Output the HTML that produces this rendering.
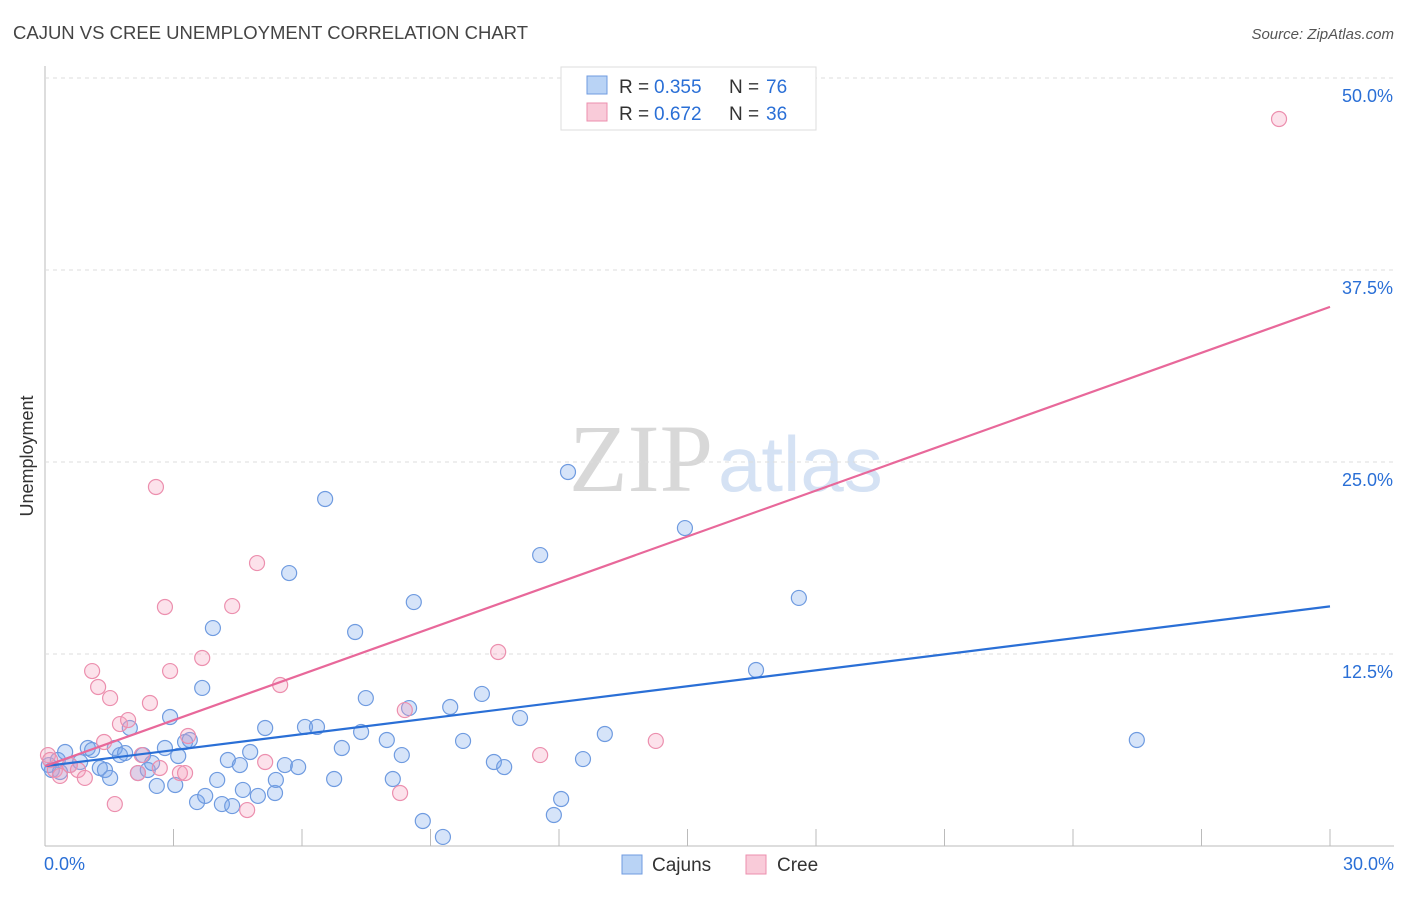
<!DOCTYPE html>
<html><head><meta charset="utf-8"><style>
body{margin:0;background:#fff;font-family:"Liberation Sans",sans-serif;}
svg text{font-family:"Liberation Sans",sans-serif;}
</style></head><body>
<svg width="1406" height="892" id="c">
<text x="13" y="39" font-size="18.5" fill="#444">CAJUN VS CREE UNEMPLOYMENT CORRELATION CHART</text>
<text x="1394" y="39" font-size="15" fill="#555" font-style="italic" text-anchor="end">Source: ZipAtlas.com</text>
<text x="0" y="0" font-size="18" fill="#333" text-anchor="middle" transform="translate(33,456) rotate(-90)">Unemployment</text>
<text x="713" y="491" font-size="96" fill="#d8d8d8" text-anchor="end" style="font-family:'Liberation Serif',serif">ZIP</text>
<text x="718" y="491" font-size="78" fill="#d5e2f4">atlas</text>
<g id="grid"></g><g id="pts"></g><g id="lines"></g>
<g>
<rect x="561" y="67" width="255" height="63" fill="#fff" stroke="#ddd"/>
<rect x="587" y="76" width="20" height="18" fill="#b9d3f5" stroke="#6f9be0"/>
<text x="619" y="93" font-size="19" fill="#333">R =</text>
<text x="654" y="93" font-size="19" fill="#2a6fd6">0.355</text>
<text x="729" y="93" font-size="19" fill="#333">N =</text>
<text x="766" y="93" font-size="19" fill="#2a6fd6">76</text>
<rect x="587" y="103" width="20" height="18" fill="#f9cbd9" stroke="#ec8fae"/>
<text x="619" y="120" font-size="19" fill="#333">R =</text>
<text x="654" y="120" font-size="19" fill="#2a6fd6">0.672</text>
<text x="729" y="120" font-size="19" fill="#333">N =</text>
<text x="766" y="120" font-size="19" fill="#2a6fd6">36</text>
</g>
<g>
<rect x="622" y="855" width="20" height="19" fill="#b9d3f5" stroke="#6f9be0"/>
<text x="652" y="871" font-size="19" fill="#333">Cajuns</text>
<rect x="746" y="855" width="20" height="19" fill="#f9cbd9" stroke="#ec8fae"/>
<text x="777" y="871" font-size="19" fill="#333">Cree</text>
</g>
</svg>
<script>
const yTicks=[12.5,25,37.5,50];
const yTickLabels=["12.5%","25.0%","37.5%","50.0%"];
const xTickCount=10;
const cajunX=[0.16,0.30,0.47,0.58,0.82,1.00,1.10,1.28,1.40,1.52,1.63,1.75,1.87,1.98,2.17,2.29,2.40,2.50,2.61,2.80,2.92,3.04,3.11,3.27,3.38,3.55,3.67,3.74,3.92,4.02,4.13,4.27,4.37,4.55,4.62,4.79,4.97,5.14,5.37,5.39,5.60,5.70,5.91,6.07,6.35,6.54,6.75,6.93,7.24,7.38,7.49,7.98,8.12,8.33,8.50,8.61,8.82,9.29,9.46,9.76,10.20,10.48,10.72,11.09,11.56,11.88,12.05,12.21,12.56,13.07,14.94,16.60,17.60,25.49,0.09,0.35];
const cajunY=[4.95,5.60,6.12,5.27,5.47,6.38,6.25,5.08,4.95,4.43,6.38,5.92,6.05,7.68,4.75,5.92,4.95,5.40,3.91,6.38,8.40,3.97,5.86,6.77,6.90,2.86,10.29,3.26,14.19,4.30,2.73,5.60,2.60,5.27,3.65,6.12,3.26,7.68,3.45,4.30,5.27,17.77,5.14,7.75,7.75,22.59,4.36,6.38,13.93,7.42,9.63,6.90,4.36,5.92,8.98,15.88,1.63,0.59,9.05,6.84,9.90,5.47,5.14,8.33,18.94,2.02,3.06,24.35,5.66,7.29,20.70,11.46,16.15,6.90,5.27,4.82];
const creeX=[0.07,0.23,0.35,0.58,0.77,0.93,1.10,1.24,1.38,1.52,1.63,1.75,1.94,2.17,2.26,2.45,2.59,2.68,2.80,2.92,3.15,3.27,3.34,3.67,4.37,4.72,4.95,5.14,5.49,8.29,8.40,10.58,11.56,14.26,28.81,0.12];
const creeY=[5.92,4.95,4.56,5.27,4.95,4.43,11.39,10.35,6.77,9.63,2.73,7.94,8.20,4.75,5.92,9.31,23.37,5.08,15.56,11.39,4.75,4.75,7.16,12.24,15.62,2.34,18.42,5.47,10.48,3.45,8.85,12.63,5.92,6.84,47.33,5.60];
const cajunTrend=[5.2,15.6];
const creeTrend=[5.2,35.1];
const X0=45,X1=1330,Y0=846,Y1=78,XMAX=30,YMAX=50;
const sx=v=>X0+(v/XMAX)*(X1-X0);
const sy=v=>Y0-(v/YMAX)*(Y0-Y1);
const NS="http://www.w3.org/2000/svg";
function mk(t,a,p){const e=document.createElementNS(NS,t);for(const k in a)e.setAttribute(k,a[k]);p.appendChild(e);return e;}
const g=document.getElementById('grid');
mk('line',{x1:X0,y1:66,x2:X0,y2:Y0,stroke:'#bbb'},g);
mk('line',{x1:X0,y1:Y0,x2:1394,y2:Y0,stroke:'#bbb'},g);
yTicks.forEach((t,i)=>{
 const l=mk('line',{x1:X0,y1:sy(t),x2:1394,y2:sy(t),stroke:'#ddd','stroke-dasharray':'4,4'},g);
 
 
 const tx=mk('text',{x:1393,y:sy(t)+24,'font-size':18,fill:'#2a6fd6','text-anchor':'end'},g);
 tx.textContent=yTickLabels[i];
 
 
});
for(let i=1;i<=xTickCount;i++){const x=X0+i*(X1-X0)/xTickCount;
 const l=mk('line',{x1:x,y1:829,x2:x,y2:Y0,stroke:'#bbb'},g);
 
 }
let t=mk('text',{x:44,y:870,'font-size':18,fill:'#2a6fd6'},g);t.textContent='0.0%';


t=mk('text',{x:1394,y:870,'font-size':18,fill:'#2a6fd6','text-anchor':'end'},g);t.textContent='30.0%';


const p=document.getElementById('pts');
cajunX.forEach((v,i)=>{const c=mk('circle',{cx:sx(v),cy:sy(cajunY[i]),r:7.5,fill:'rgba(120,165,235,0.3)',stroke:'#6f9be0','stroke-width':1.2},p);
 
 });
creeX.forEach((v,i)=>{const c=mk('circle',{cx:sx(v),cy:sy(creeY[i]),r:7.5,fill:'rgba(245,160,190,0.3)',stroke:'#ec8fae','stroke-width':1.2},p);
 
 });
const L=document.getElementById('lines');
let ln=mk('line',{x1:sx(0),y1:sy(cajunTrend[0]),x2:sx(XMAX),y2:sy(cajunTrend[1]),stroke:'#2a6fd6','stroke-width':2.2},L);


ln=mk('line',{x1:sx(0),y1:sy(creeTrend[0]),x2:sx(XMAX),y2:sy(creeTrend[1]),stroke:'#e8689a','stroke-width':2.2},L);


</script>
</body></html>
